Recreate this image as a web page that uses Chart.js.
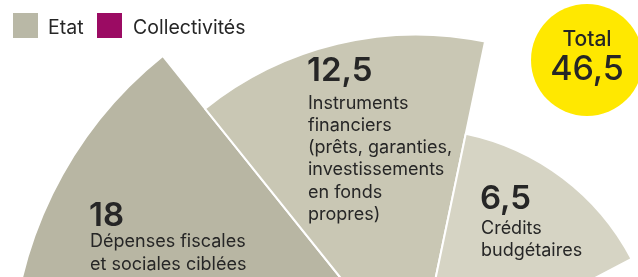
<!DOCTYPE html>
<html><head><meta charset="utf-8">
<script src="https://cdn.jsdelivr.net/npm/chart.js@4/dist/chart.umd.min.js"></script>
<style>
html,body{margin:0;padding:0;width:638px;height:277px;overflow:hidden;background:#fff;}
body{position:relative;font-family:Inter,"Noto Sans",sans-serif;color:#262626;}
#wrap{position:absolute;left:11px;top:-33px;width:810px;height:810px;}
.t{position:absolute;white-space:nowrap;line-height:1.2109;}
.sq{position:absolute;width:25px;height:25px;}
#badge{position:absolute;left:531px;top:4px;width:112px;height:112px;border-radius:50%;background:#ffe800;}
</style></head>
<body>
<div id="wrap"><canvas id="c" width="810" height="810"></canvas></div>
<div id="badge"></div>
<div id="overlay"></div>
<script>
// ---- data ----
const categories = ["Dépenses fiscales et sociales ciblées", "Instruments financiers", "Crédits budgétaires"];
const categoryLines = [
  ["Dépenses fiscales", "et sociales ciblées"],
  ["Instruments", "financiers", "(prêts, garanties,", "investissements", "en fonds", "propres)"],
  ["Crédits", "budgétaires"]
];
const etatValues = [18, 12.5, 6.5];
const totalValue = 46.5;
const totalLabel = "Total";
const legendLabels = ["Etat", "Collectivités"];

// ---- styles / layout ----
const wedgeColors = ["#b8b6a3", "#c9c7b4", "#d6d4c4"];
const legendColors = ["#b9b8a6", "#9b0b63"];
const labelLayout = [
  {left: 90,  numBase: 227, firstBase: 247,   step: 23},
  {left: 308, numBase: 82,  firstBase: 109.3, step: 22.2},
  {left: 481, numBase: 210, firstBase: 234.7, step: 21.8}
];
const fmt = v => String(v).replace('.', ',');
const ASC = 0.96875;

const overlay = document.getElementById('overlay');
function addText(txt, left, baseline, size, weight, extra) {
  const d = document.createElement('div');
  d.className = 't';
  d.textContent = txt;
  d.style.left = left + 'px';
  d.style.top = (baseline - ASC * size) + 'px';
  d.style.fontSize = size + 'px';
  d.style.fontWeight = weight;
  if (extra) Object.assign(d.style, extra);
  overlay.appendChild(d);
  return d;
}

// legend
const legPos = [{sq: 13, tx: 48}, {sq: 97, tx: 133}];
legendLabels.forEach((l, i) => {
  const s = document.createElement('div');
  s.className = 'sq';
  s.style.left = legPos[i].sq + 'px';
  s.style.top = '13px';
  s.style.background = legendColors[i];
  overlay.appendChild(s);
  addText(l, legPos[i].tx, 35, 19.5, 400);
});

// segment labels
etatValues.forEach((v, i) => {
  const L = labelLayout[i];
  addText(fmt(v), L.left - 1, L.numBase, 33, 600);
  categoryLines[i].forEach((line, j) => addText(line, L.left, L.firstBase + j * L.step, 18, 400));
});

// total badge
addText(totalLabel, 540, 46, 21, 500, {width: '94px', textAlign: 'center'});
addText(fmt(totalValue), 540, 80, 34, 500, {width: '94px', textAlign: 'center'});

// ---- chart (area-proportional radii: r = sqrt(value)) ----
new Chart(document.getElementById('c'), {
  type: 'polarArea',
  data: {
    labels: categories,
    datasets: [{
      label: legendLabels[0],
      data: etatValues.map(v => Math.sqrt(v)),
      backgroundColor: wedgeColors,
      borderColor: '#ffffff',
      borderWidth: 2,
      angle: 50.5
    }]
  },
  options: {
    responsive: false,
    animation: false,
    layout: {padding: 0},
    plugins: {legend: {display: false}, tooltip: {enabled: false}},
    scales: {
      r: {
        min: 0,
        max: Math.sqrt(Math.max(...etatValues)),
        startAngle: -89.2,
        ticks: {display: false},
        grid: {display: false},
        angleLines: {display: false},
        pointLabels: {display: false}
      }
    }
  }
});
</script>
</body></html>
